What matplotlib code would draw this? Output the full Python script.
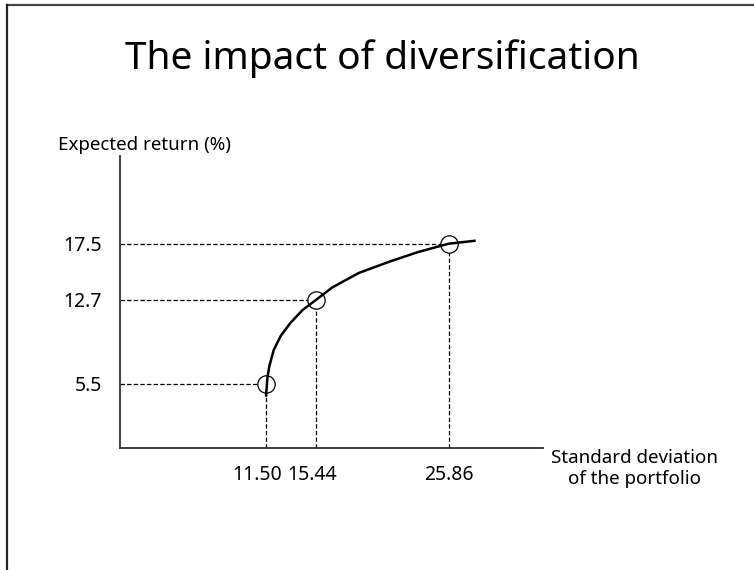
import numpy as np
import matplotlib
matplotlib.use("Agg")
import matplotlib.pyplot as plt
import matplotlib.transforms as mtransforms
from matplotlib.lines import Line2D

plt.rcParams['font.family'] = ['Noto Sans', 'DejaVu Sans']

# portfolios: standard deviation (%) and expected return (%)
sd = [11.50, 15.44, 25.86]
ret = [5.5, 12.7, 17.5]
sd_labels = ["11.50", "15.44", "25.86"]
ret_labels = ["5.5", "12.7", "17.5"]

# efficient frontier sketch
curve_sd = [11.5, 11.6, 11.75, 12.1, 12.65, 13.4, 14.35, 15.44, 16.7, 18.8, 21.3, 23.5, 25.86, 27.9]
curve_ret = [4.5, 6.0, 7.0, 8.4, 9.6, 10.7, 11.8, 12.7, 13.75, 15.0, 16.0, 16.8, 17.5, 17.75]

fig = plt.figure(figsize=(7.54, 5.70), dpi=100)
ax = fig.add_axes([0.1592, 0.214, 0.561, 0.512])

# curve drawn over the circles so it shows through them
ax.plot(curve_sd, curve_ret, color="black", lw=1.8, zorder=5)
ax.plot(sd, ret, "o", ms=12.5, mfc="white", mec="black", mew=0.9, zorder=4)

dash = (0, (3.5, 1.8))
ax.hlines(ret, 0, sd, colors="black", linestyles=dash, lw=0.9, zorder=2)
ax.vlines(sd, 0, ret, colors="black", linestyles=dash, lw=0.9, zorder=2)

ax.set_xlim(0, 33.3)
ax.set_ylim(0, 25)
ax.set_xticks(sd)
ax.set_xticklabels(sd_labels)
ax.set_yticks(ret)
ax.set_yticklabels(ret_labels)
ax.tick_params(length=0, labelsize=14)
ax.tick_params(axis="x", pad=12)
ax.tick_params(axis="y", pad=13)
for s in ["top", "right"]:
    ax.spines[s].set_visible(False)
for s in ["left", "bottom"]:
    ax.spines[s].set_color("#333333")
    ax.spines[s].set_linewidth(1.3)

# the two close labels are nudged apart so they don't run together
nudges = [-9, -4, 0]
for lab, dx in zip(ax.get_xticklabels(), nudges):
    lab.set_transform(lab.get_transform() +
                      mtransforms.ScaledTranslation(dx / 100, 0, fig.dpi_scale_trans))

fig.text(0.077, 0.745, "Expected return (%)", fontsize=13.5, ha="left", va="center")
fig.text(0.842, 0.178, "Standard deviation\nof the portfolio", fontsize=13.5,
         ha="center", va="center", linespacing=1.15)
fig.text(0.507, 0.897, "The impact of diversification", fontsize=28,
         ha="center", va="center")

# slide frame
fig.add_artist(Line2D([0.0093, 1.0], [0.991, 0.991], color="#444444", lw=1.6))
fig.add_artist(Line2D([0.0093, 0.0093], [0.0, 0.991], color="#222222", lw=1.6))

fig.savefig("out.png", dpi=100)
